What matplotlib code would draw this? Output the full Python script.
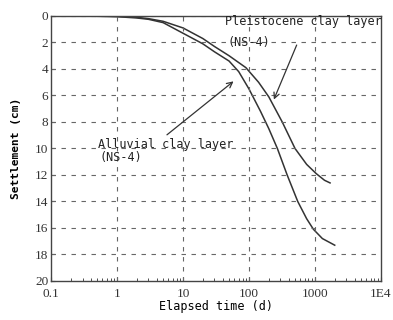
import numpy as np
import matplotlib
matplotlib.use('Agg')
import matplotlib.pyplot as plt
from matplotlib.ticker import FixedLocator, LogLocator, NullFormatter

# czas (d) i osiadanie (cm)
t_alluvial = [0.2, 0.5, 1, 2, 3, 5, 10, 20, 30, 50, 70, 100, 150, 200, 270, 380, 550, 750, 950, 1300, 2000]
s_alluvial = [0, 0.02, 0.05, 0.15, 0.25, 0.5, 1.3, 2.1, 2.7, 3.4, 4.2, 5.5, 7.2, 8.5, 10.0, 12.0, 14.0, 15.3, 16.1, 16.8, 17.3]

t_pleist = [0.2, 0.5, 1, 2, 3, 5, 10, 20, 30, 50, 90, 140, 200, 320, 500, 750, 1050, 1400, 1700]
s_pleist = [0, 0.01, 0.03, 0.1, 0.2, 0.4, 0.9, 1.7, 2.3, 3.0, 3.9, 5.0, 6.1, 8.0, 10.0, 11.2, 11.9, 12.4, 12.6]

x_ticks = [0.1, 1, 10, 100, 1000, 10000]
x_labels = ['0.1', '1', '10', '100', '1000', '1E4']
y_ticks = list(range(0, 21, 2))

mono = 'DejaVu Sans Mono'
serif = 'Liberation Serif'

fig = plt.figure(figsize=(3.93, 3.2), dpi=100)
ax = fig.add_axes([0.13, 0.122, 0.839, 0.828])

ax.plot(t_alluvial, s_alluvial, color='#333333', lw=1.1)
ax.plot(t_pleist, s_pleist, color='#333333', lw=1.1)

ax.set_xscale('log')
ax.set_xlim(0.1, 10000)
ax.set_ylim(20, 0)

ax.xaxis.set_major_locator(FixedLocator(x_ticks))
ax.set_xticklabels(x_labels, fontsize=9.5, family=serif)
ax.xaxis.set_minor_locator(LogLocator(base=10, subs=np.arange(2, 10)))
ax.xaxis.set_minor_formatter(NullFormatter())
ax.set_yticks(y_ticks)
ax.set_yticklabels([str(v) for v in y_ticks], fontsize=9.5, family=serif)

ax.tick_params(axis='both', which='major', direction='in', length=3, width=0.8, colors='#333333')
ax.tick_params(axis='x', which='major', pad=5)
ax.tick_params(axis='y', which='major', pad=2)
ax.tick_params(axis='x', which='minor', direction='in', length=2, width=0.6, colors='#333333')
ax.tick_params(top=False, right=False)

# siatka przerywana
for xv in x_ticks[1:-1]:
    ax.axvline(xv, color='#666666', lw=0.8, ls=(0, (4, 5)))
for yv in y_ticks[:-1]:
    ax.axhline(yv, color='#666666', lw=0.8, ls=(0, (4, 5)))

for sp in ax.spines.values():
    sp.set_color('#444444')
    sp.set_linewidth(1.0)

ax.set_xlabel('Elapsed time (d)', fontsize=8.5, family=mono, labelpad=0)
ax.set_ylabel('Settlement (cm)', fontsize=8, family=mono, fontweight='bold', labelpad=10)

ax.text(44, 0.45, 'Pleistocene clay layer', fontsize=8.5, family=mono, va='center', ha='left', color='#222222')
ax.text(47, 2.0, '(NS-4)', fontsize=8.5, family=mono, va='center', ha='left', color='#222222')
ax.annotate('', xy=(230, 6.5), xytext=(550, 2.0),
            arrowprops=dict(arrowstyle='->', color='#333333', lw=0.9))

ax.text(0.52, 9.7, 'Alluvial clay layer', fontsize=8.5, family=mono, va='center', ha='left', color='#222222')
ax.text(0.55, 10.65, '(NS-4)', fontsize=8.5, family=mono, va='center', ha='left', color='#222222')
ax.annotate('', xy=(63, 4.8), xytext=(5.3, 9.1),
            arrowprops=dict(arrowstyle='->', color='#333333', lw=0.9))

fig.savefig('out.png', dpi=100)
